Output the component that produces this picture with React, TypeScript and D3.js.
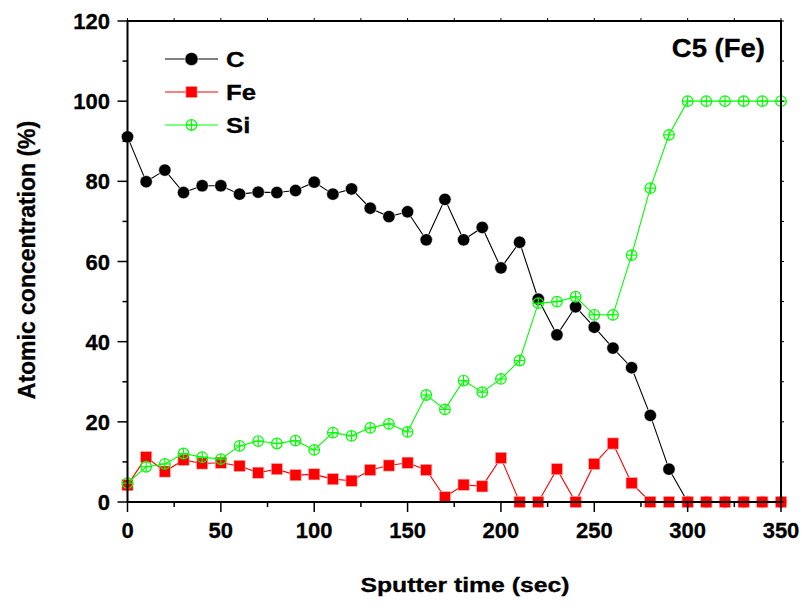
import React from "react";
import * as d3 from "d3";

const times = [0,10,20,30,40,50,60,70,80,90,100,110,120,130,140,150,160,170,180,190,200,210,220,230,240,250,260,270,280,290,300,310,320,330,340,350];
const cValues = [91.1,79.9,82.8,77.2,78.9,78.9,76.8,77.3,77.2,77.7,79.8,76.8,78.1,73.3,71.2,72.4,65.4,75.5,65.4,68.5,58.4,64.8,50.6,41.7,48.7,43.6,38.4,33.5,21.6,8.2,0,0,0,0,0,0];
const feValues = [4.2,11.2,7.6,10.5,9.6,9.8,9.0,7.3,8.2,6.7,6.9,5.7,5.3,8.0,9.1,9.8,8.0,1.2,4.3,3.9,11.0,0,0,8.2,0,9.5,14.6,4.7,0,0,0,0,0,0,0,0];
const siValues = [4.7,8.8,9.5,12.1,11.2,10.7,14.0,15.2,14.6,15.3,13.0,17.3,16.5,18.5,19.5,17.5,26.7,23.1,30.3,27.4,30.7,35.3,49.6,50.0,51.2,46.7,46.7,61.6,78.3,91.6,100,100,100,100,100,100];
const xTicks = [0,50,100,150,200,250,300,350];
const yTicks = [0,20,40,60,80,100,120];
const seriesNames = ["C","Fe","Si"];
const seriesColors = ["#000000","#ff0000","#00ff00"];

const W = 807, H = 608;
const FONT = "'Liberation Sans', Arial, Helvetica, sans-serif";

function Marker({ kind, x, y, color, big }: { kind: number; x: number; y: number; color: string; big?: boolean }) {
  if (kind === 0) return <circle cx={x} cy={y} r={big ? 6.6 : 6.2} fill={color} stroke="#fff" strokeWidth={0.6} />;
  if (kind === 1) return <rect x={x - 5.6} y={y - 5.6} width={11.2} height={11.2} fill={color} stroke="#ffb0b0" strokeWidth={0.6} />;
  const r = 5.3;
  return (
    <g stroke={color} strokeWidth={1.2} fill="none">
      <circle cx={x} cy={y} r={r} />
      <line x1={x - r} x2={x + r} y1={y} y2={y} />
      <line x1={x} x2={x} y1={y - r} y2={y + r} />
    </g>
  );
}

export default function App() {
  const x = d3.scaleLinear().domain([0, 350]).range([127.5, 781]);
  const y = d3.scaleLinear().domain([0, 120]).range([502, 21]);
  const line = d3.line<[number, number]>().x(d => x(d[0])).y(d => y(d[1]));
  const all = [cValues, feValues, siValues];
  const minorX = d3.range(0, 351, 25);
  const minorY = d3.range(0, 121, 10);
  const [x0, x1] = x.range();
  const [y0, y1] = y.range();

  return (
    <svg width={W} height={H} style={{ position: "absolute", left: 0, top: 0, background: "#fff" }} fontFamily={FONT}>
      {/* series */}
      {all.map((vals, si) => (
        <g key={si}>
          <path d={line(times.map((t, i) => [t, vals[i]]) as [number, number][]) || ""} fill="none" stroke={seriesColors[si]} strokeWidth={1.1} />
          {times.map((t, i) => (
            <Marker key={i} kind={si} x={x(t)} y={y(vals[i])} color={seriesColors[si]} />
          ))}
        </g>
      ))}
      {/* frame */}
      <rect x={x0} y={y1} width={x1 - x0} height={y0 - y1} fill="none" stroke="#000" strokeWidth={2} />
      {/* ticks */}
      {minorX.map(v => (
        <line key={"bx" + v} x1={x(v)} x2={x(v)} y1={y0} y2={y0 + (v % 50 === 0 ? 10 : 5)} stroke="#000" strokeWidth={1.5} />
      ))}
      {minorX.map(v => (
        <line key={"tx" + v} x1={x(v)} x2={x(v)} y1={y1} y2={y1 - 3} stroke="#000" strokeWidth={1} />
      ))}
      {minorY.map(v => (
        <line key={"ly" + v} x1={x0} x2={x0 - (v % 20 === 0 ? 10 : 5)} y1={y(v)} y2={y(v)} stroke="#000" strokeWidth={1.5} />
      ))}
      {minorY.map(v => (
        <line key={"ry" + v} x1={x1} x2={x1 + 3} y1={y(v)} y2={y(v)} stroke="#000" strokeWidth={1} />
      ))}
      {xTicks.map(v => (
        <text key={"xl" + v} x={x(v)} y={538} textAnchor="middle" fontSize={22} fontWeight="bold" stroke="#000" strokeWidth={0.3}>{v}</text>
      ))}
      {yTicks.map(v => (
        <text key={"yl" + v} x={110} y={y(v) + 8} textAnchor="end" fontSize={22} fontWeight="bold" stroke="#000" strokeWidth={0.3}>{v}</text>
      ))}
      <text transform="translate(465,592) scale(1.18,1)" x={0} y={0} textAnchor="middle" fontSize={21} fontWeight="bold" stroke="#000" strokeWidth={0.3}>Sputter time (sec)</text>
      <text transform="translate(35,260) rotate(-90) scale(1,1.06)" textAnchor="middle" fontSize={23} fontWeight="bold" stroke="#000" strokeWidth={0.3}>Atomic concentration (%)</text>
      <text transform="translate(765,57) scale(1.1,1)" textAnchor="end" fontSize={25} fontWeight="bold" stroke="#000" strokeWidth={0.3}>C5 (Fe)</text>
      {/* legend */}
      {seriesNames.map((n, i) => {
        const ly = 59 + i * 33;
        return (
          <g key={n}>
            <line x1={165} x2={218} y1={ly} y2={ly} stroke={seriesColors[i]} strokeWidth={1.1} />
            <Marker kind={i} x={191.5} y={ly} color={seriesColors[i]} big />
            <text transform={`translate(226,${ly + 8}) scale(1.12,1)`} fontSize={23} fontWeight="bold" stroke="#000" strokeWidth={0.3}>{n}</text>
          </g>
        );
      })}
    </svg>
  );
}
